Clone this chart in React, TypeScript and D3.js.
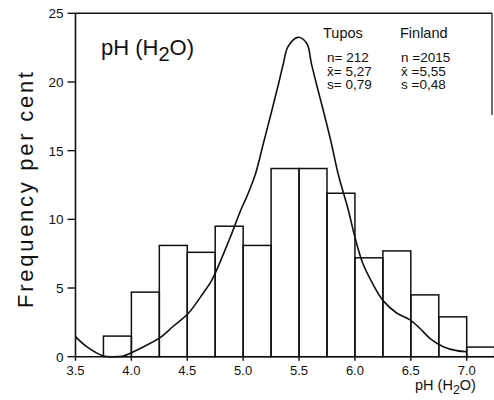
import React from "react";
import * as d3 from "d3";

const binStarts = [3.75, 4.0, 4.25, 4.5, 4.75, 5.0, 5.25, 5.5, 5.75, 6.0, 6.25, 6.5, 6.75, 7.0];
const binFreq = [1.5, 4.7, 8.1, 7.6, 9.5, 8.1, 13.7, 13.7, 11.9, 7.2, 7.7, 4.5, 2.9, 0.7];
const binWidth = 0.25;

const curveX = [3.5, 3.6, 3.75, 3.84, 3.93, 4.0, 4.14, 4.26, 4.37, 4.51, 4.64, 4.72, 4.88, 4.98, 5.03, 5.11, 5.18, 5.25, 5.31, 5.36, 5.4, 5.49, 5.57, 5.61, 5.67, 5.73, 5.79, 5.85, 5.94, 6.0, 6.07, 6.16, 6.25, 6.37, 6.49, 6.58, 6.67, 6.79, 6.91, 7.0];
const curveY = [1.46, 0.73, 0.05, 0, 0.05, 0.29, 0.85, 1.41, 2.18, 3.16, 4.6, 5.58, 8.6, 10.7, 11.6, 13.3, 15.5, 17.7, 19.65, 21.35, 22.56, 23.25, 22.8, 21.35, 19.4, 17.5, 15.5, 13.3, 10.7, 8.7, 6.8, 5.3, 4.1, 3.2, 2.7, 2.07, 1.34, 0.73, 0.44, 0.36];

const xTicks = [3.5, 4.0, 4.5, 5.0, 5.5, 6.0, 6.5, 7.0];
const yTicks = [0, 5, 10, 15, 20, 25];

const tuposStats = ["n= 212", "x\u0304= 5,27", "s= 0,79"];
const finlandStats = ["n =2015", "x\u0304 =5,55", "s =0,48"];

const W = 494;
const H = 400;
const FONT = "'Liberation Sans', 'DejaVu Sans', sans-serif";

export default function App() {
  const x = d3.scaleLinear().domain([3.5, 7.0]).range([75.5, 466.7]);
  const y = d3.scaleLinear().domain([0, 25]).range([356.7, 13.3]);
  const pts: [number, number][] = curveX.map((v, i) => [v, curveY[i]]);
  const line = d3
    .line<[number, number]>()
    .x((d) => x(d[0]))
    .y((d) => y(d[1]))
    .curve(d3.curveCatmullRom.alpha(0.5));

  const x0 = x(3.5);
  const yBase = y(0);
  const yTop = y(25);
  const xRight = 492;

  return (
    <svg
      width={W}
      height={H}
      style={{ position: "absolute", left: 0, top: 0, background: "#fff" }}
      fontFamily={FONT}
    >
      <rect x={0} y={0} width={W} height={H} fill="#fff" />
      <defs>
        <clipPath id="plotclip">
          <rect x={x0} y={0} width={xRight - x0 + 2} height={yBase + 1} />
        </clipPath>
      </defs>
      {/* bars */}
      <g clipPath="url(#plotclip)">
        {binStarts.map((b, i) => (
          <rect
            key={i}
            x={x(b)}
            y={y(binFreq[i])}
            width={x(b + binWidth) - x(b)}
            height={yBase - y(binFreq[i])}
            fill="none"
            stroke="#111"
            strokeWidth={1.5}
          />
        ))}
      </g>
      {/* curve */}
      <path d={line(pts) || ""} fill="none" stroke="#111" strokeWidth={1.6} />
      {/* frame */}
      <line x1={x0} y1={yTop} x2={xRight} y2={yTop} stroke="#111" strokeWidth={1.5} />
      <line x1={xRight} y1={yTop} x2={xRight} y2={115} stroke="#111" strokeWidth={1.2} />
      <line x1={x0} y1={yTop} x2={x0} y2={yBase} stroke="#111" strokeWidth={1.6} />
      <line x1={x0} y1={yBase} x2={W} y2={yBase} stroke="#111" strokeWidth={1.6} />
      {/* y ticks */}
      {yTicks.map((t) => (
        <g key={t}>
          <line x1={x0 - 8} y1={y(t)} x2={x0} y2={y(t)} stroke="#111" strokeWidth={1.4} />
          <text x={x0 - 12} y={y(t) + 5} textAnchor="end" fontSize={13.5} fill="#111">
            {t}
          </text>
        </g>
      ))}
      {/* x ticks */}
      {xTicks.map((t) => (
        <g key={t}>
          <line x1={x(t)} y1={yBase} x2={x(t)} y2={yBase + 4} stroke="#111" strokeWidth={1.4} />
          <text x={x(t)} y={yBase + 18.5} textAnchor="middle" fontSize={13} fill="#111">
            {t.toFixed(1)}
          </text>
        </g>
      ))}
      {/* axis titles */}
      <text x={415} y={390} fontSize={14.5} fill="#111">
        pH (H<tspan dy={4} fontSize={12.5}>2</tspan>
        <tspan dy={-4}>O)</tspan>
      </text>
      <text
        transform={`translate(33,190) rotate(-90)`}
        textAnchor="middle"
        fontSize={22}
        fill="#111"
        textLength={236}
        lengthAdjust="spacing"
      >
        Frequency per cent
      </text>
      {/* inset title */}
      <text x={101} y={55} fontSize={22} fill="#111">
        pH (H<tspan dy={6} fontSize={20}>2</tspan>
        <tspan dy={-6}>O)</tspan>
      </text>
      {/* legend stats */}
      <text x={323} y={38} fontSize={14.5} fill="#111">Tupos</text>
      <text x={400} y={38} fontSize={14.5} fill="#111">Finland</text>
      {tuposStats.map((s, i) => (
        <text key={i} x={327} y={62 + i * 13.5} fontSize={13.5} fill="#111">
          {s}
        </text>
      ))}
      {finlandStats.map((s, i) => (
        <text key={i} x={401} y={62 + i * 13.5} fontSize={13.5} fill="#111">
          {s}
        </text>
      ))}
    </svg>
  );
}
